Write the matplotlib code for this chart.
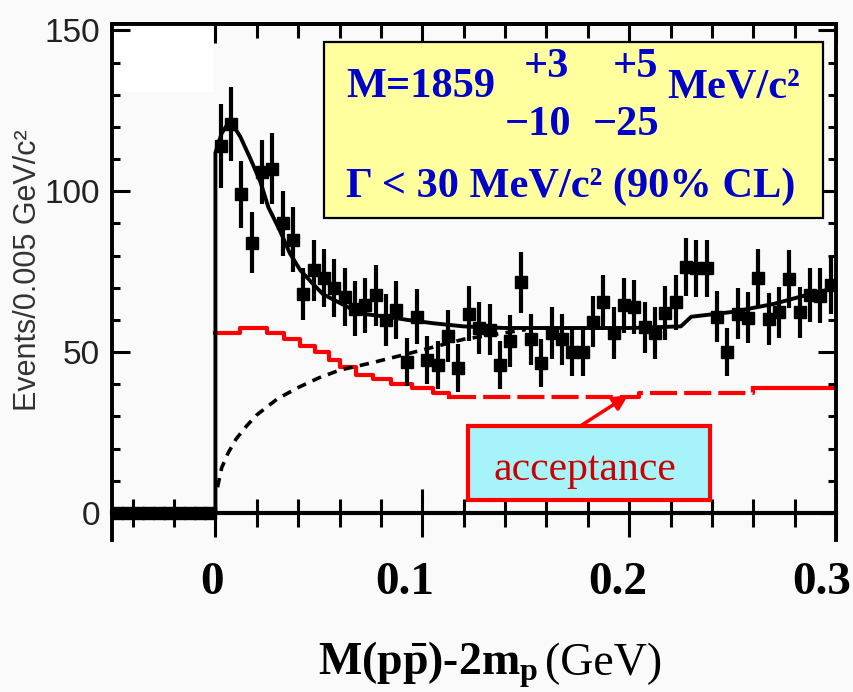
import matplotlib
matplotlib.use("Agg")
import numpy as np
import matplotlib.pyplot as plt
from matplotlib.patches import Rectangle
from matplotlib.ticker import MultipleLocator
from matplotlib.transforms import ScaledTranslation

plt.rcParams['mathtext.fontset'] = 'custom'
plt.rcParams['mathtext.rm'] = 'Liberation Serif:bold'
plt.rcParams['mathtext.bf'] = 'Liberation Serif:bold'
plt.rcParams['mathtext.it'] = 'Liberation Serif:bold:italic'

serif = 'Liberation Serif'
narrow = ['Liberation Sans Narrow', 'Liberation Sans']

# events per 5 MeV bin above threshold, with errors
bin_width = 0.005
counts = [114, 121, 99, 84, 106, 107, 90, 85, 68, 75.5,
          73, 70, 67, 63.5, 64.5, 67.7, 60, 63, 47, 61,
          47.5, 46, 55, 45, 62, 57.5, 57, 46, 53.5, 71.7,
          54, 46.6, 56, 54, 50, 50, 59.5, 65.5, 56, 64.6,
          64, 57.7, 56, 62.2, 65.5, 76.5, 76, 76, 61, 50,
          62, 60.7, 73, 60.3, 62.4, 72.7, 62.4, 67.8, 67.5, 71]
errors = [13, 11.5, 10.5, 9.5, 10, 11, 10, 10, 8, 9.5,
          9, 9, 9, 8.5, 8.5, 9.5, 8, 9, 7.5, 8.5,
          7.5, 7.5, 8, 7.5, 8.5, 8, 8, 7.5, 8, 9.5,
          8, 7.5, 8, 8, 7.5, 7.5, 8, 8.5, 8, 8.5,
          8.5, 8, 8, 8.5, 8.5, 9, 9, 9, 8, 7.5,
          8, 8, 9, 8, 8, 9, 8, 8.5, 8.5, 9]
# below threshold: empty bins
below_counts = [0, 0, 0, 0, 0, 0, 0, 0, 0, 0]

# fit curve
fit_x = [0, 0, 0.003, 0.006, 0.009, 0.012, 0.017, 0.0217, 0.0256, 0.031,
         0.036, 0.041, 0.046, 0.052, 0.061, 0.07, 0.083, 0.093, 0.105, 0.12,
         0.14, 0.2, 0.225, 0.23, 0.25, 0.27, 0.29, 0.3]
fit_y = [0, 112, 118, 121, 120, 117, 110, 103, 95, 88,
         80.7, 75.5, 72, 68, 65, 62, 61, 60, 59, 58,
         57.5, 57.5, 58, 61, 62.5, 65, 68.5, 70]

# background part of the fit
bkg_x = [0.001, 0.003, 0.006, 0.01, 0.015, 0.02, 0.03, 0.04, 0.05, 0.06,
         0.075, 0.09, 0.105, 0.12, 0.15]
bkg_y = [8, 14, 18.5, 23, 27, 30.5, 35.5, 39, 42, 44.4,
         46.6, 49, 51.5, 54, 57]

# acceptance (arbitrary scale), step heights
acc_x = [0, 0.012, 0.025, 0.033, 0.041, 0.048, 0.055, 0.06, 0.068, 0.076,
         0.085, 0.095, 0.105, 0.113, 0.205, 0.26, 0.3]
acc_y = [56, 57.5, 56, 54, 52, 50, 47.5, 45.3, 42.8, 41.6,
         40, 38.8, 37.3, 36, 37.3, 38.8, 38.8]

x_ticks = [0, 0.1, 0.2, 0.3]
x_ticklabels = ['0', '0.1', '0.2', '0.3']
y_ticks = [0, 50, 100, 150]
y_ticklabels = ['0', '50', '100', '150']

x_above = 0.0025 + bin_width * np.arange(len(counts))
x_below = -0.0475 + bin_width * np.arange(len(below_counts))

fig = plt.figure(figsize=(8.54, 6.92), dpi=100, facecolor='#fafafa')
ax = fig.add_axes([112 / 854, 152 / 692, 724 / 854, 516 / 692])
ax.set_facecolor('#fafafa')
ax.set_xlim(-0.05, 0.3)
ax.set_ylim(-8.4, 152)

# white patch in the top left corner
ax.add_patch(Rectangle((-0.0495, 131), 0.0485, 22, facecolor='white',
                       edgecolor='none', zorder=1))

# acceptance: solid, dashed in the middle, solid again
acc_x = np.array(acc_x)
acc_y = np.array(acc_y)
m1 = acc_x <= 0.113
m2 = (acc_x >= 0.113) & (acc_x <= 0.26)
m3 = acc_x >= 0.26
ax.plot(acc_x[m1], acc_y[m1], drawstyle='steps-post', color='red', lw=3, zorder=2)
ax.plot(acc_x[m2], acc_y[m2], drawstyle='steps-post', color='red', lw=3,
        ls=(0, (6.5, 1.7)), zorder=2)
ax.plot(acc_x[m3], acc_y[m3], drawstyle='steps-post', color='red', lw=3, zorder=2)

ax.plot(bkg_x, bkg_y, color='k', lw=2.6, ls=(0, (2.6, 2.0)), zorder=2)

ax.errorbar(x_above, counts, yerr=errors, fmt='s', color='k', ms=8,
            elinewidth=3, capsize=0, zorder=3)
ax.plot(x_below, below_counts, 's', color='k', ms=8, zorder=3)

ax.plot(fit_x, fit_y, color='k', lw=2.8, zorder=4)

# axes frame, x axis sits on y = 0
for s in ['left', 'right', 'top']:
    ax.spines[s].set_linewidth(2.8)
ax.spines['bottom'].set_position(('data', 0))
ax.spines['bottom'].set_linewidth(3)

ax.set_xticks(x_ticks, x_ticklabels, fontfamily=serif, fontweight='bold',
              fontsize=34)
ax.xaxis.set_minor_locator(MultipleLocator(0.02))
ax.set_yticks(y_ticks, y_ticklabels, fontfamily=narrow, fontsize=24,
              color='#222222')
ax.yaxis.set_minor_locator(MultipleLocator(10))
ax.tick_params(axis='x', which='major', direction='inout', length=34,
               width=2.2, pad=18)
ax.tick_params(axis='x', which='minor', direction='inout', length=20, width=2.2)
ax.tick_params(axis='y', which='both', direction='in', left=True, right=True,
               width=2.2)
ax.tick_params(axis='y', which='major', length=13, pad=8.6)
ax.tick_params(axis='y', which='minor', length=6)

# x labels sit a little left of their ticks
for lab, dx in zip(ax.get_xticklabels(), [-3, -18, -11, -14]):
    lab.set_transform(lab.get_transform() +
                      ScaledTranslation(dx / 100, 0, fig.dpi_scale_trans))

top = ax.secondary_xaxis('top')
top.set_xticks(x_ticks)
top.xaxis.set_minor_locator(MultipleLocator(0.02))
top.tick_params(axis='x', which='both', direction='in', width=2.2,
                labeltop=False, labelbottom=False)
top.tick_params(axis='x', which='major', length=14)
top.tick_params(axis='x', which='minor', length=10)
top.spines['top'].set_linewidth(2.8)

ax.set_ylabel('Events/0.005 GeV/c\u00b2', fontfamily='Liberation Sans',
              fontsize=22, color='#333333')
ax.yaxis.set_label_coords(-0.0953, 0.523)

# result box
ax.add_patch(Rectangle((0.2928, 0.624), 0.689, 0.341, transform=ax.transAxes,
                       facecolor='#ffff9e', edgecolor='black', lw=1.6, zorder=5))
blue = '#0000cd'
box_txt = dict(transform=ax.transAxes, fontfamily=serif, fontweight='bold',
               fontsize=30.5, color=blue, va='baseline', ha='left', zorder=6)
ax.text(0.3232, 0.8585, 'M=1859', **box_txt)
ax.text(0.569, 0.8973, '+3', **box_txt)
ax.text(0.692, 0.8973, '+5', **box_txt)
ax.text(0.7666, 0.8585, 'MeV/c\u00b2', **box_txt)
ax.text(0.5428, 0.7849, '\u221210', **box_txt)
ax.text(0.6644, 0.7849, '\u221225', **box_txt)
ax.text(0.3232, 0.6647, '\u0393 < 30 MeV/c\u00b2 (90% CL)', **box_txt)

# acceptance label and arrow
ax.add_patch(Rectangle((0.4917, 0.0775), 0.3343, 0.1434, transform=ax.transAxes,
                       facecolor='#a6f4f9', edgecolor='red', lw=3, zorder=5))
ax.text(0.6533, 0.1163, 'acceptance', transform=ax.transAxes, fontfamily=serif,
        fontsize=30, color='#cc0000', ha='center', va='baseline', zorder=6)
ax.annotate('', xy=(0.1995, 36.6), xytext=(0.1763, 27.0),
            arrowprops=dict(arrowstyle='-|>', color='red', lw=2.5,
                            mutation_scale=22, shrinkA=0, shrinkB=0),
            zorder=6)

# x axis title
fig.text(538 / 854, 17 / 692, r'M(p$\bar{\mathrm{p}}$)-2m$_{\mathrm{p}}$',
         fontfamily=serif, fontweight='bold', fontsize=33, ha='right',
         va='baseline')
fig.text(545 / 854, 17 / 692, '(GeV)', fontfamily=serif, fontsize=33,
         ha='left', va='baseline')

fig.savefig('out.png', dpi=100, facecolor=fig.get_facecolor())
